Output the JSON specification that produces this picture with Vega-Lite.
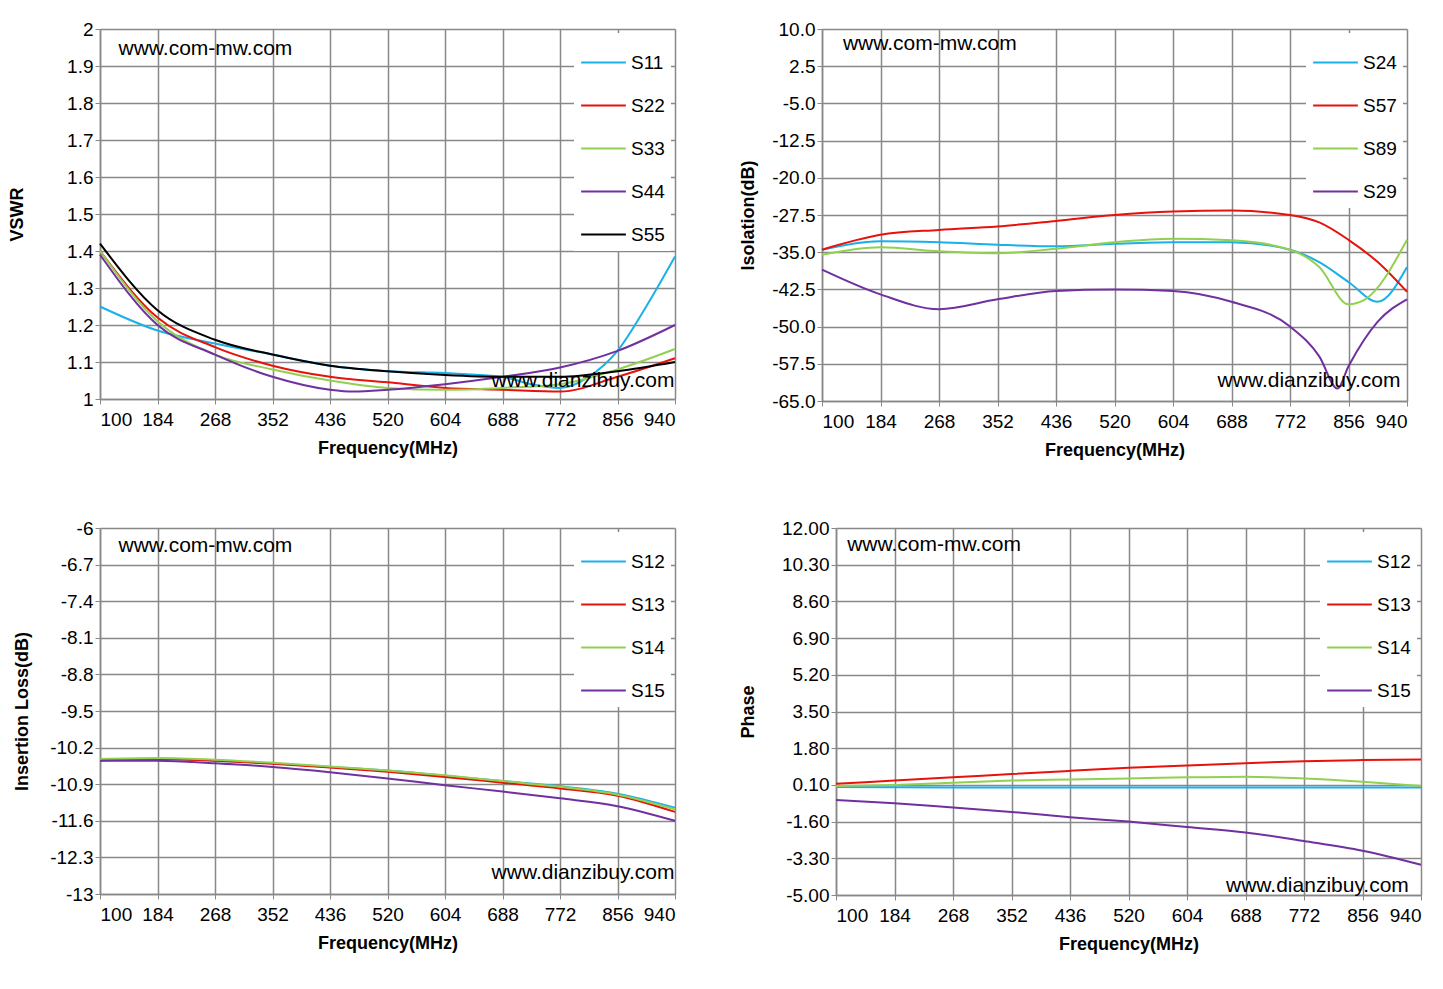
{
  "$schema": "https://vega.github.io/schema/vega-lite/v6.json",
  "background": "white",
  "padding": {"left": 8, "top": 20, "right": 10, "bottom": 5},
  "resolve": {"scale": {"color": "independent"}, "legend": {"color": "independent"}},
  "config": {
    "font": "Liberation Sans",
    "view": {"stroke": null},
    "axis": {"labelFontSize": 19, "titleFontSize": 18, "titleFontWeight": "bold", "labelColor": "#000", "titleColor": "#000", "gridColor": "#888", "gridWidth": 1.5, "domainColor": "#888", "tickColor": "#888", "domainWidth": 1.5, "labelFont": "Liberation Sans", "labelOverlap": false, "labelExpr": "replace(datum.label, '\u2212', '-')"},
    "legend": {"orient": "top-right", "fillColor": "white", "symbolType": "stroke", "symbolSize": 2000, "symbolStrokeWidth": 2, "labelFontSize": 19, "rowPadding": 9, "title": null, "padding": 6, "offset": 4, "labelLimit": 100},
    "line": {"strokeWidth": 2, "interpolate": "monotone"},
    "text": {"fontSize": 21, "align": "left", "font": "Liberation Sans"},
    "concat": {"spacing": 60}
  },
  "vconcat": [
    {"resolve": {"scale": {"color": "independent"}, "legend": {"color": "independent"}},
     "hconcat": [
      {
        "width": 575, "height": 370,
        "data": {"values": [
          {"s":"S11","f":100,"v":1.25},{"s":"S11","f":184,"v":1.185},{"s":"S11","f":268,"v":1.15},{"s":"S11","f":352,"v":1.12},{"s":"S11","f":436,"v":1.09},{"s":"S11","f":520,"v":1.075},{"s":"S11","f":604,"v":1.07},{"s":"S11","f":688,"v":1.06},{"s":"S11","f":730,"v":1.04},{"s":"S11","f":772,"v":1.03},{"s":"S11","f":814,"v":1.06},{"s":"S11","f":856,"v":1.13},{"s":"S11","f":898,"v":1.25},{"s":"S11","f":940,"v":1.385},
          {"s":"S22","f":100,"v":1.4},{"s":"S22","f":184,"v":1.22},{"s":"S22","f":268,"v":1.14},{"s":"S22","f":352,"v":1.09},{"s":"S22","f":436,"v":1.06},{"s":"S22","f":520,"v":1.045},{"s":"S22","f":604,"v":1.03},{"s":"S22","f":688,"v":1.025},{"s":"S22","f":772,"v":1.02},{"s":"S22","f":856,"v":1.06},{"s":"S22","f":940,"v":1.11},
          {"s":"S33","f":100,"v":1.4},{"s":"S33","f":184,"v":1.21},{"s":"S33","f":268,"v":1.12},{"s":"S33","f":352,"v":1.08},{"s":"S33","f":436,"v":1.05},{"s":"S33","f":520,"v":1.03},{"s":"S33","f":604,"v":1.025},{"s":"S33","f":688,"v":1.03},{"s":"S33","f":772,"v":1.04},{"s":"S33","f":856,"v":1.08},{"s":"S33","f":940,"v":1.135},
          {"s":"S44","f":100,"v":1.39},{"s":"S44","f":184,"v":1.2},{"s":"S44","f":268,"v":1.12},{"s":"S44","f":352,"v":1.06},{"s":"S44","f":436,"v":1.025},{"s":"S44","f":470,"v":1.02},{"s":"S44","f":520,"v":1.025},{"s":"S44","f":604,"v":1.04},{"s":"S44","f":688,"v":1.06},{"s":"S44","f":772,"v":1.085},{"s":"S44","f":856,"v":1.13},{"s":"S44","f":940,"v":1.2},
          {"s":"S55","f":100,"v":1.42},{"s":"S55","f":184,"v":1.24},{"s":"S55","f":268,"v":1.16},{"s":"S55","f":352,"v":1.12},{"s":"S55","f":436,"v":1.09},{"s":"S55","f":520,"v":1.075},{"s":"S55","f":604,"v":1.065},{"s":"S55","f":688,"v":1.06},{"s":"S55","f":772,"v":1.06},{"s":"S55","f":856,"v":1.075},{"s":"S55","f":940,"v":1.1}
        ]},
        "layer": [
          {"mark": "line", "encoding": {
            "x": {"field": "f", "type": "quantitative", "title": "Frequency(MHz)", "scale": {"domain": [100, 940], "nice": false}, "axis": {"values": [100,184,268,352,436,520,604,688,772,856,940], "labelPadding": 6, "titlePadding": 10}},
            "y": {"field": "v", "type": "quantitative", "title": "VSWR", "scale": {"domain": [1, 2], "nice": false, "zero": false}, "axis": {"values": [1,1.1,1.2,1.3,1.4,1.5,1.6,1.7,1.8,1.9,2], "format": "~g", "titlePadding": 40}},
            "color": {"field": "s", "type": "nominal", "scale": {"domain": ["S11","S22","S33","S44","S55"], "range": ["#1AB0E8","#E8120C","#92D050","#7030A0","#000000"]}}
          }},
          {"data": {"values": [{}]}, "mark": "text", "encoding": {"x": {"datum": 127}, "y": {"datum": 1.945, "axis": {"values": [1,1.1,1.2,1.3,1.4,1.5,1.6,1.7,1.8,1.9,2], "format": "~g", "titlePadding": 40}}, "text": {"value": "www.com-mw.com"}}},
          {"data": {"values": [{}]}, "mark": "text", "encoding": {"x": {"datum": 672}, "y": {"datum": 1.05, "axis": {"values": [1,1.1,1.2,1.3,1.4,1.5,1.6,1.7,1.8,1.9,2], "format": "~g", "titlePadding": 40}}, "text": {"value": "www.dianzibuy.com"}}}
        ]
      },
      {
        "width": 585, "height": 372,
        "data": {"values": [
          {"s":"S24","f":100,"v":-34.5},{"s":"S24","f":184,"v":-32.8},{"s":"S24","f":268,"v":-33},{"s":"S24","f":352,"v":-33.5},{"s":"S24","f":436,"v":-33.8},{"s":"S24","f":520,"v":-33.3},{"s":"S24","f":604,"v":-33},{"s":"S24","f":688,"v":-33},{"s":"S24","f":772,"v":-34.5},{"s":"S24","f":814,"v":-37},{"s":"S24","f":856,"v":-41},{"s":"S24","f":898,"v":-45},{"s":"S24","f":940,"v":-38},
          {"s":"S57","f":100,"v":-34.5},{"s":"S57","f":184,"v":-31.5},{"s":"S57","f":268,"v":-30.5},{"s":"S57","f":352,"v":-29.8},{"s":"S57","f":436,"v":-28.7},{"s":"S57","f":520,"v":-27.5},{"s":"S57","f":604,"v":-26.8},{"s":"S57","f":688,"v":-26.6},{"s":"S57","f":772,"v":-27.5},{"s":"S57","f":814,"v":-29},{"s":"S57","f":856,"v":-32.5},{"s":"S57","f":898,"v":-37},{"s":"S57","f":940,"v":-43},
          {"s":"S89","f":100,"v":-35.5},{"s":"S89","f":184,"v":-34},{"s":"S89","f":268,"v":-34.8},{"s":"S89","f":352,"v":-35.2},{"s":"S89","f":436,"v":-34.3},{"s":"S89","f":520,"v":-33},{"s":"S89","f":604,"v":-32.3},{"s":"S89","f":688,"v":-32.6},{"s":"S89","f":772,"v":-34.5},{"s":"S89","f":814,"v":-38},{"s":"S89","f":856,"v":-45.5},{"s":"S89","f":880,"v":-44.5},{"s":"S89","f":940,"v":-32.5},
          {"s":"S29","f":100,"v":-38.5},{"s":"S29","f":184,"v":-43.5},{"s":"S29","f":268,"v":-46.5},{"s":"S29","f":352,"v":-44.5},{"s":"S29","f":436,"v":-42.8},{"s":"S29","f":520,"v":-42.5},{"s":"S29","f":604,"v":-42.8},{"s":"S29","f":688,"v":-45},{"s":"S29","f":772,"v":-50},{"s":"S29","f":814,"v":-56},{"s":"S29","f":840,"v":-62.5},{"s":"S29","f":856,"v":-58},{"s":"S29","f":898,"v":-49},{"s":"S29","f":940,"v":-44.5}
        ]},
        "layer": [
          {"mark": "line", "encoding": {
            "x": {"field": "f", "type": "quantitative", "title": "Frequency(MHz)", "scale": {"domain": [100, 940], "nice": false}, "axis": {"values": [100,184,268,352,436,520,604,688,772,856,940], "labelPadding": 6, "titlePadding": 10}},
            "y": {"field": "v", "type": "quantitative", "title": "Isolation(dB)", "scale": {"domain": [-65, 10], "nice": false, "zero": false}, "axis": {"values": [-65,-57.5,-50,-42.5,-35,-27.5,-20,-12.5,-5,2.5,10], "format": ".1f", "titlePadding": 14}},
            "color": {"field": "s", "type": "nominal", "scale": {"domain": ["S24","S57","S89","S29"], "range": ["#1AB0E8","#E8120C","#92D050","#7030A0"]}}
          }},
          {"data": {"values": [{}]}, "mark": "text", "encoding": {"x": {"datum": 130}, "y": {"datum": 7, "axis": {"values": [-65,-57.5,-50,-42.5,-35,-27.5,-20,-12.5,-5,2.5,10], "format": ".1f", "titlePadding": 14}}, "text": {"value": "www.com-mw.com"}}},
          {"data": {"values": [{}]}, "mark": "text", "encoding": {"x": {"datum": 668}, "y": {"datum": -61, "axis": {"values": [-65,-57.5,-50,-42.5,-35,-27.5,-20,-12.5,-5,2.5,10], "format": ".1f", "titlePadding": 14}}, "text": {"value": "www.dianzibuy.com"}}}
        ]
      }
    ]},
    {"resolve": {"scale": {"color": "independent"}, "legend": {"color": "independent"}},
     "hconcat": [
      {
        "width": 575, "height": 366,
        "data": {"values": [
          {"s":"S12","f":100,"v":-10.45},{"s":"S12","f":184,"v":-10.42},{"s":"S12","f":268,"v":-10.45},{"s":"S12","f":352,"v":-10.5},{"s":"S12","f":436,"v":-10.57},{"s":"S12","f":520,"v":-10.64},{"s":"S12","f":604,"v":-10.74},{"s":"S12","f":688,"v":-10.84},{"s":"S12","f":772,"v":-10.94},{"s":"S12","f":856,"v":-11.08},{"s":"S12","f":940,"v":-11.35},
          {"s":"S13","f":100,"v":-10.44},{"s":"S13","f":184,"v":-10.42},{"s":"S13","f":268,"v":-10.45},{"s":"S13","f":352,"v":-10.51},{"s":"S13","f":436,"v":-10.58},{"s":"S13","f":520,"v":-10.66},{"s":"S13","f":604,"v":-10.76},{"s":"S13","f":688,"v":-10.87},{"s":"S13","f":772,"v":-10.98},{"s":"S13","f":856,"v":-11.12},{"s":"S13","f":940,"v":-11.43},
          {"s":"S14","f":100,"v":-10.42},{"s":"S14","f":184,"v":-10.4},{"s":"S14","f":268,"v":-10.43},{"s":"S14","f":352,"v":-10.49},{"s":"S14","f":436,"v":-10.56},{"s":"S14","f":520,"v":-10.64},{"s":"S14","f":604,"v":-10.73},{"s":"S14","f":688,"v":-10.84},{"s":"S14","f":772,"v":-10.95},{"s":"S14","f":856,"v":-11.1},{"s":"S14","f":940,"v":-11.38},
          {"s":"S15","f":100,"v":-10.45},{"s":"S15","f":184,"v":-10.45},{"s":"S15","f":268,"v":-10.5},{"s":"S15","f":352,"v":-10.57},{"s":"S15","f":436,"v":-10.67},{"s":"S15","f":520,"v":-10.79},{"s":"S15","f":604,"v":-10.92},{"s":"S15","f":688,"v":-11.04},{"s":"S15","f":772,"v":-11.17},{"s":"S15","f":856,"v":-11.32},{"s":"S15","f":940,"v":-11.6}
        ]},
        "layer": [
          {"mark": "line", "encoding": {
            "x": {"field": "f", "type": "quantitative", "title": "Frequency(MHz)", "scale": {"domain": [100, 940], "nice": false}, "axis": {"values": [100,184,268,352,436,520,604,688,772,856,940], "labelPadding": 6, "titlePadding": 10}},
            "y": {"field": "v", "type": "quantitative", "title": "Insertion Loss(dB)", "scale": {"domain": [-13, -6], "nice": false, "zero": false}, "axis": {"values": [-13,-12.3,-11.6,-10.9,-10.2,-9.5,-8.8,-8.1,-7.4,-6.7,-6], "format": "~g", "titlePadding": 18}},
            "color": {"field": "s", "type": "nominal", "scale": {"domain": ["S12","S13","S14","S15"], "range": ["#1AB0E8","#E8120C","#92D050","#7030A0"]}}
          }},
          {"data": {"values": [{}]}, "mark": "text", "encoding": {"x": {"datum": 127}, "y": {"datum": -6.35, "axis": {"values": [-13,-12.3,-11.6,-10.9,-10.2,-9.5,-8.8,-8.1,-7.4,-6.7,-6], "format": "~g", "titlePadding": 18}}, "text": {"value": "www.com-mw.com"}}},
          {"data": {"values": [{}]}, "mark": "text", "encoding": {"x": {"datum": 672}, "y": {"datum": -12.6, "axis": {"values": [-13,-12.3,-11.6,-10.9,-10.2,-9.5,-8.8,-8.1,-7.4,-6.7,-6], "format": "~g", "titlePadding": 18}}, "text": {"value": "www.dianzibuy.com"}}}
        ]
      },
      {
        "width": 585, "height": 367,
        "data": {"values": [
          {"s":"S12","f":100,"v":0.0},{"s":"S12","f":268,"v":-0.02},{"s":"S12","f":520,"v":-0.02},{"s":"S12","f":772,"v":-0.02},{"s":"S12","f":940,"v":-0.02},
          {"s":"S13","f":100,"v":0.15},{"s":"S13","f":184,"v":0.3},{"s":"S13","f":268,"v":0.45},{"s":"S13","f":352,"v":0.6},{"s":"S13","f":436,"v":0.75},{"s":"S13","f":520,"v":0.9},{"s":"S13","f":604,"v":1.0},{"s":"S13","f":688,"v":1.1},{"s":"S13","f":772,"v":1.2},{"s":"S13","f":856,"v":1.25},{"s":"S13","f":940,"v":1.28},
          {"s":"S14","f":100,"v":0.05},{"s":"S14","f":184,"v":0.1},{"s":"S14","f":268,"v":0.2},{"s":"S14","f":352,"v":0.3},{"s":"S14","f":436,"v":0.35},{"s":"S14","f":520,"v":0.4},{"s":"S14","f":604,"v":0.45},{"s":"S14","f":688,"v":0.48},{"s":"S14","f":772,"v":0.4},{"s":"S14","f":856,"v":0.25},{"s":"S14","f":940,"v":0.05},
          {"s":"S15","f":100,"v":-0.6},{"s":"S15","f":184,"v":-0.75},{"s":"S15","f":268,"v":-0.95},{"s":"S15","f":352,"v":-1.15},{"s":"S15","f":436,"v":-1.4},{"s":"S15","f":520,"v":-1.6},{"s":"S15","f":604,"v":-1.85},{"s":"S15","f":688,"v":-2.1},{"s":"S15","f":772,"v":-2.5},{"s":"S15","f":856,"v":-2.95},{"s":"S15","f":940,"v":-3.6}
        ]},
        "layer": [
          {"mark": "line", "encoding": {
            "x": {"field": "f", "type": "quantitative", "title": "Frequency(MHz)", "scale": {"domain": [100, 940], "nice": false}, "axis": {"values": [100,184,268,352,436,520,604,688,772,856,940], "labelPadding": 6, "titlePadding": 10}},
            "y": {"field": "v", "type": "quantitative", "title": "Phase", "scale": {"domain": [-5, 12], "nice": false, "zero": false}, "axis": {"values": [-5,-3.3,-1.6,0.1,1.8,3.5,5.2,6.9,8.6,10.3,12], "format": ".2f", "titlePadding": 24}},
            "color": {"field": "s", "type": "nominal", "scale": {"domain": ["S12","S13","S14","S15"], "range": ["#1AB0E8","#E8120C","#92D050","#7030A0"]}}
          }},
          {"data": {"values": [{}]}, "mark": "text", "encoding": {"x": {"datum": 116}, "y": {"datum": 11.2, "axis": {"values": [-5,-3.3,-1.6,0.1,1.8,3.5,5.2,6.9,8.6,10.3,12], "format": ".2f", "titlePadding": 24}}, "text": {"value": "www.com-mw.com"}}},
          {"data": {"values": [{}]}, "mark": "text", "encoding": {"x": {"datum": 660}, "y": {"datum": -4.6, "axis": {"values": [-5,-3.3,-1.6,0.1,1.8,3.5,5.2,6.9,8.6,10.3,12], "format": ".2f", "titlePadding": 24}}, "text": {"value": "www.dianzibuy.com"}}}
        ]
      }
    ]}
  ]
}
